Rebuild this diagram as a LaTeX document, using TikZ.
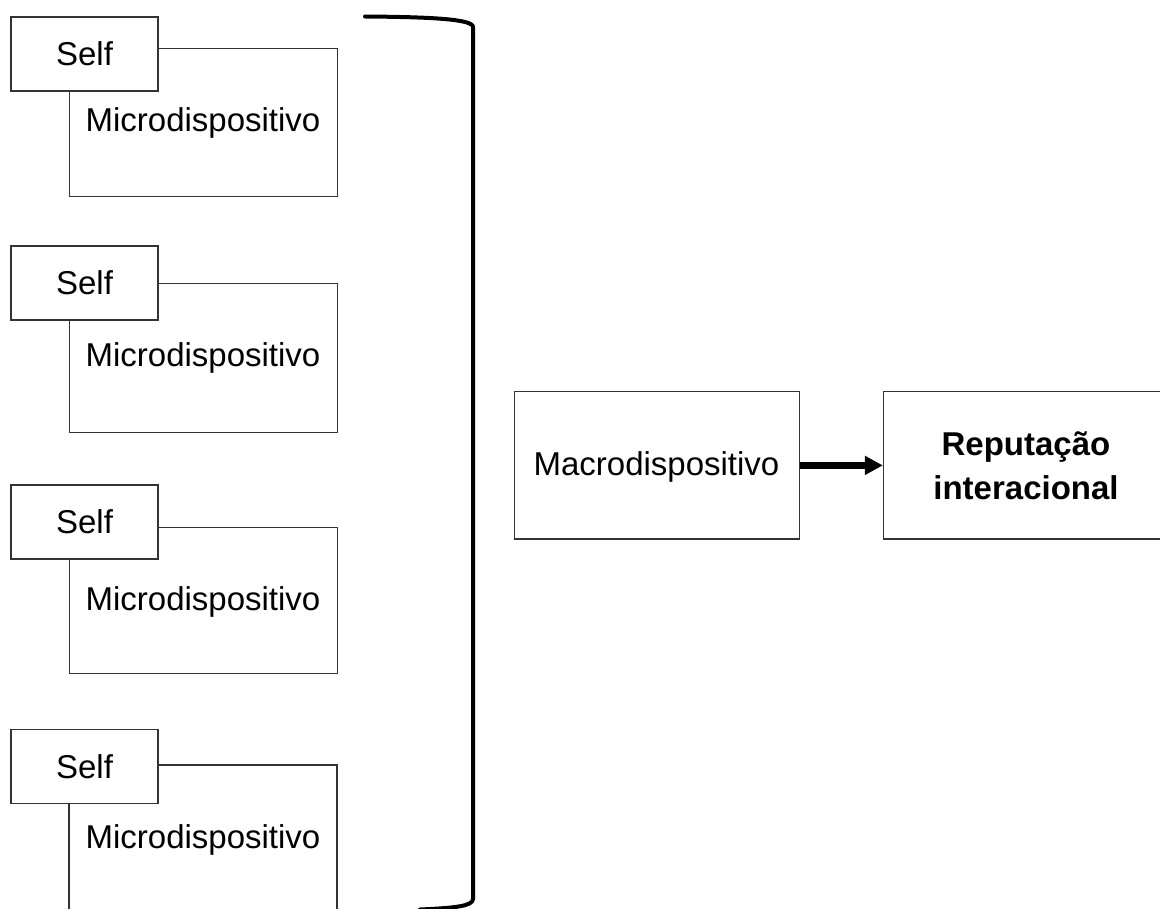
\documentclass[tikz,border=0pt]{standalone}
\usepackage{fontspec}
\setmainfont{Liberation Sans}
\usetikzlibrary{arrows.meta}
\definecolor{edge}{HTML}{333333}
\tikzset{
  selfbox/.style={draw=edge, line width=1.2pt, fill=white, minimum width=147pt, minimum height=74pt, inner sep=0pt,
    font=\fontsize{33}{40}\selectfont},
  microbox/.style={draw=edge, line width=1.2pt, inner sep=0pt, anchor=north west},
  microtext/.style={font=\fontsize{33}{40}\selectfont, inner sep=0pt},
  bigbox/.style={draw=edge, line width=1.2pt, inner sep=0pt, minimum width=285pt, minimum height=147pt},
  bracket/.style={line width=4pt, black, line cap=round, line join=round},
  flow/.style={line width=6.5pt, black, -{Triangle[length=18pt,width=18pt]}}
}
\begin{document}
\begin{tikzpicture}[x=1pt,y=-1pt]
\useasboundingbox (0,0) rectangle (1160,909);
\clip (0,0) rectangle (1160,909);
\fill[white] (0,0) rectangle (1160,909);

% micro boxes
\node[microbox, minimum width=268pt, minimum height=148pt] (m1) at (69,48) {};
\node[microbox, minimum width=268pt, minimum height=149pt] (m2) at (69,283) {};
\node[microbox, minimum width=268pt, minimum height=146pt] (m3) at (69,527) {};
\draw[draw=edge, line width=1.2pt] (69,920) -- (69,765) -- (337,765) -- (337,920);
\coordinate (m4) at (69,765);

% micro labels
\node[microtext] (t1) at (203,123) {Microdispositivo};
\node[microtext] (t2) at (203,358) {Microdispositivo};
\node[microtext] (t3) at (203,602) {Microdispositivo};
\node[microtext] (t4) at (203,840) {Microdispositivo};

% self boxes
\node[selfbox] (s1) at (84.5,54) {Self};
\node[selfbox] (s2) at (84.5,283) {Self};
\node[selfbox] (s3) at (84.5,522) {Self};
\node[selfbox] (s4) at (84.5,766.5) {Self};

% bracket
\draw[bracket] (365,16.5) .. controls (430,17) and (473,19) .. (473,27)
  -- (473,899) .. controls (473,906) and (455,908) .. (420,909.5);

% macro and reputation
\node[bigbox] (macro) at (656.7,465.4) {};
\node[font=\fontsize{33}{40}\selectfont, inner sep=0pt] (macrotext) at (656.5,467) {Macrodispositivo};
\node[bigbox] (rep) at (1026,465.4) {};
\node[font=\fontsize{33}{44}\selectfont\bfseries, align=center, inner sep=0pt] (reptext) at (1026,466)
  {Reputação\\interacional};

\draw[flow] (macro.east) -- (rep.west);
\end{tikzpicture}
\end{document}
